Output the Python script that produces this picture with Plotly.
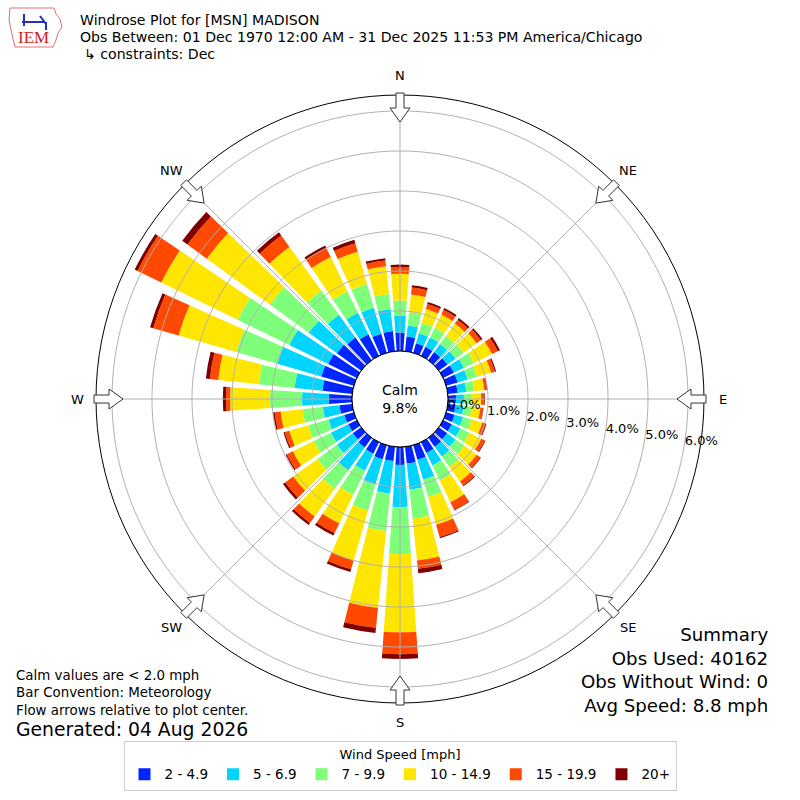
import numpy as np
import plotly.graph_objects as go

# ----------------------
# Data (percent of observations, 10 degree bins, direction wind blows from)
# ----------------------
directions = list(range(0, 360, 10))
speed_bins = ["2 - 4.9", "5 - 6.9", "7 - 9.9", "10 - 14.9", "15 - 19.9", "20+"]

pct_2_5 = [0.46, 0.37, 0.25, 0.25, 0.25, 0.27, 0.30, 0.30, 0.25, 0.20, 0.20, 0.22,
           0.24, 0.26, 0.28, 0.30, 0.38, 0.42, 0.45, 0.36, 0.37, 0.32, 0.30, 0.26,
           0.24, 0.25, 0.32, 0.58, 0.75, 0.85, 0.80, 0.75, 0.70, 0.60, 0.50, 0.51]
pct_5_7 = [0.42, 0.28, 0.26, 0.26, 0.25, 0.25, 0.28, 0.26, 0.22, 0.20, 0.20, 0.22,
           0.24, 0.26, 0.30, 0.35, 0.52, 0.66, 1.05, 0.82, 0.66, 0.48, 0.70, 0.49,
           0.48, 0.41, 0.42, 0.67, 0.70, 1.14, 1.08, 0.87, 0.70, 0.60, 0.67, 0.55]
pct_7_10 = [0.38, 0.33, 0.27, 0.27, 0.25, 0.25, 0.28, 0.25, 0.20, 0.18, 0.20, 0.22,
            0.25, 0.27, 0.32, 0.42, 0.45, 0.73, 1.18, 0.94, 0.67, 0.67, 0.58, 0.60,
            0.48, 0.53, 0.51, 0.80, 0.90, 1.07, 1.44, 1.20, 0.75, 0.60, 0.62, 0.38]
pct_10_15 = [0.67, 0.45, 0.36, 0.37, 0.38, 0.40, 0.50, 0.36, 0.25, 0.25, 0.22, 0.28,
             0.33, 0.38, 0.45, 0.60, 0.72, 1.05, 1.95, 1.93, 1.30, 0.79, 0.85, 0.75,
             0.58, 0.49, 0.55, 1.00, 1.02, 1.50, 2.12, 1.95, 1.35, 0.95, 0.84, 0.70]
pct_15_20 = [0.17, 0.17, 0.13, 0.13, 0.12, 0.13, 0.16, 0.10, 0.06, 0.07, 0.07, 0.09,
             0.10, 0.11, 0.13, 0.21, 0.32, 0.21, 0.55, 0.50, 0.23, 0.27, 0.20, 0.25,
             0.17, 0.12, 0.15, 0.10, 0.21, 0.66, 0.66, 0.60, 0.35, 0.25, 0.22, 0.14]
pct_20p = [0.06, 0.06, 0.05, 0.05, 0.05, 0.05, 0.06, 0.03, 0.02, 0.02, 0.01, 0.02,
           0.02, 0.02, 0.02, 0.02, 0.03, 0.11, 0.12, 0.13, 0.07, 0.07, 0.06, 0.07,
           0.03, 0.03, 0.04, 0.08, 0.10, 0.08, 0.08, 0.16, 0.10, 0.07, 0.09, 0.06]

bin_colors = ["#0025ff", "#00d5ff", "#7dff7a", "#ffe600", "#ff4800", "#800000"]

ring_values = [0, 1, 2, 3, 4, 5, 6]
compass_angles = [0, 45, 90, 135, 180, 225, 270, 315]
compass_labels = ["N", "NE", "E", "SE", "S", "SW", "W", "NW"]

calm_pct = 9.8
obs_used = 40162
obs_no_wind = 0
avg_speed = 8.8

# ----------------------
# Geometry (pixels in the 800x800 page)
# ----------------------
W = H = 800
CX, CY = 400, 399
R_OUT, R_CALM = 304, 48
RMAX = 6.4
FONT = "DejaVu Sans"


def px(x, y):
    return x / W, 1 - y / H


fig = go.Figure()

# Stacked bars per speed bin
all_bins = [pct_2_5, pct_5_7, pct_7_10, pct_10_15, pct_15_20, pct_20p]
for name, vals, col in zip(speed_bins, all_bins, bin_colors):
    fig.add_trace(go.Barpolar(
        r=vals, theta=directions, width=8, name=name,
        marker=dict(color=col, line=dict(width=0)),
    ))

# Grid drawn over the bars (like matplotlib)
ring_theta = np.linspace(0, 360, 361)
for rv in ring_values[1:]:
    fig.add_trace(go.Scatterpolar(
        r=[rv] * len(ring_theta), theta=ring_theta, mode="lines",
        line=dict(color="#b0b0b0", width=1), showlegend=False, hoverinfo="skip"))
for a in compass_angles:
    fig.add_trace(go.Scatterpolar(
        r=[0, RMAX], theta=[a, a], mode="lines",
        line=dict(color="#b0b0b0", width=1), showlegend=False, hoverinfo="skip"))
# calm circle edge
fig.add_trace(go.Scatterpolar(
    r=[0] * len(ring_theta), theta=ring_theta, mode="lines",
    line=dict(color="black", width=1), showlegend=False, hoverinfo="skip"))

# radial tick labels
fig.add_trace(go.Scatterpolar(
    r=ring_values, theta=[98.5] * len(ring_values), mode="text",
    text=[f"{v:.1f}%" for v in ring_values], textposition="middle right",
    textfont=dict(family=FONT, size=13, color="black"),
    showlegend=False, hoverinfo="skip", cliponaxis=False))

fig.update_layout(
    width=W, height=H,
    margin=dict(l=0, r=0, t=0, b=0),
    paper_bgcolor="white",
    font=dict(family=FONT, color="black"),
    polar=dict(
        domain=dict(x=[(CX - R_OUT) / W, (CX + R_OUT) / W],
                    y=[1 - (CY + R_OUT) / H, 1 - (CY - R_OUT) / H]),
        hole=R_CALM / R_OUT,
        bgcolor="white",
        barmode="stack",
        radialaxis=dict(range=[0, RMAX], showgrid=False, showticklabels=False,
                        ticks="", showline=False),
        angularaxis=dict(rotation=90, direction="clockwise", showgrid=False,
                         showticklabels=False, ticks="", showline=True,
                         linecolor="black", linewidth=1),
    ),
    legend=dict(
        orientation="h", x=0.5, xanchor="center", y=1 - 741 / H, yanchor="top",
        bordercolor="#cccccc", borderwidth=1, bgcolor="white",
        font=dict(family=FONT, size=13.5), traceorder="normal",
        title=dict(text="Wind Speed [mph]", side="top center",
                   font=dict(family=FONT, size=13)),
    ),
)

# ----------------------
# Flow arrows at the compass points (pointing to centre)
# ----------------------
shapes = []
for a in compass_angles:
    t = np.radians(a)
    ux, uy = np.sin(t), -np.cos(t)
    pxv, pyv = np.cos(t), np.sin(t)

    def pt(r, s):
        return px(CX + r * ux + s * pxv, CY + r * uy + s * pyv)

    poly = [pt(R_OUT + 2, 4), pt(R_OUT - 13, 4), pt(R_OUT - 13, 10), pt(R_OUT - 27, 0),
            pt(R_OUT - 13, -10), pt(R_OUT - 13, -4), pt(R_OUT + 2, -4)]
    path = "M " + " L ".join(f"{x:.5f},{y:.5f}" for x, y in poly) + " Z"
    shapes.append(dict(type="path", path=path, xref="paper", yref="paper",
                       fillcolor="white", line=dict(color="#333333", width=1)))

# IEM logo outline (rough Iowa shape)
iowa = [(10, 8), (54, 8), (56, 14), (60, 19), (62, 27), (58, 33), (56, 40), (53, 47),
        (15, 47), (13, 39), (11, 30), (9, 20), (10, 8)]
shapes.append(dict(type="path", xref="paper", yref="paper",
                   path="M " + " L ".join(f"{px(x, y)[0]:.5f},{px(x, y)[1]:.5f}" for x, y in iowa) + " Z",
                   line=dict(color="#e07070", width=1), fillcolor="rgba(0,0,0,0)"))
for (x0, y0, x1, y1) in [(22, 22, 44, 22), (24, 14, 24, 26), (40, 16, 46, 24), (46, 22, 46, 30)]:
    shapes.append(dict(type="line", xref="paper", yref="paper",
                       x0=px(x0, y0)[0], y0=px(x0, y0)[1], x1=px(x1, y1)[0], y1=px(x1, y1)[1],
                       line=dict(color="#2030c0", width=2)))
fig.update_layout(shapes=shapes)

# ----------------------
# Text
# ----------------------
ann = []
for a, lab in zip(compass_angles, compass_labels):
    t = np.radians(a)
    x, y = px(CX + 323 * np.sin(t), CY - 323 * np.cos(t))
    ann.append(dict(text=lab, x=x, y=y, xref="paper", yref="paper", showarrow=False,
                    xanchor="center", yanchor="middle", font=dict(size=13)))

ann.append(dict(text=f"Calm<br>{calm_pct}%", x=CX / W, y=1 - CY / H, xref="paper", yref="paper",
                showarrow=False, xanchor="center", yanchor="middle", font=dict(size=14)))

title_lines = ["Windrose Plot for [MSN] MADISON",
               "Obs Between: 01 Dec 1970 12:00 AM - 31 Dec 2025 11:53 PM America/Chicago",
               "↳ constraints: Dec"]
for i, (line, xoff) in enumerate(zip(title_lines, [78, 78, 82])):
    ann.append(dict(text=line, x=xoff / W, y=1 - (20 + 17 * i) / H, xref="paper", yref="paper",
                    showarrow=False, xanchor="left", yanchor="middle", font=dict(size=14.1)))

ann.append(dict(text="IEM", x=33 / W, y=1 - 37 / H, xref="paper", yref="paper", showarrow=False,
                xanchor="center", yanchor="middle",
                font=dict(family="Liberation Serif", size=17, color="#d02020")))

ann.append(dict(text=("Summary<br>Obs Used: %d<br>Obs Without Wind: %d<br>Avg Speed: %.1f mph"
                      % (obs_used, obs_no_wind, avg_speed)),
                x=770 / W, y=1 - 670 / H, xref="paper", yref="paper", showarrow=False,
                xanchor="right", yanchor="middle", align="right", font=dict(size=18.2)))

ann.append(dict(text=("Calm values are &lt; 2.0 mph<br>Bar Convention: Meteorology<br>"
                      "Flow arrows relative to plot center."),
                x=14 / W, y=1 - 693 / H, xref="paper", yref="paper", showarrow=False,
                xanchor="left", yanchor="middle", align="left", font=dict(size=13.4)))
ann.append(dict(text="Generated: 04 Aug 2026", x=14 / W, y=1 - 729 / H, xref="paper", yref="paper",
                showarrow=False, xanchor="left", yanchor="middle", font=dict(size=18.8)))

fig.update_layout(annotations=ann)

fig.write_html("out.html", config={"displayModeBar": False},
               post_script="document.body.style.margin='0';")
